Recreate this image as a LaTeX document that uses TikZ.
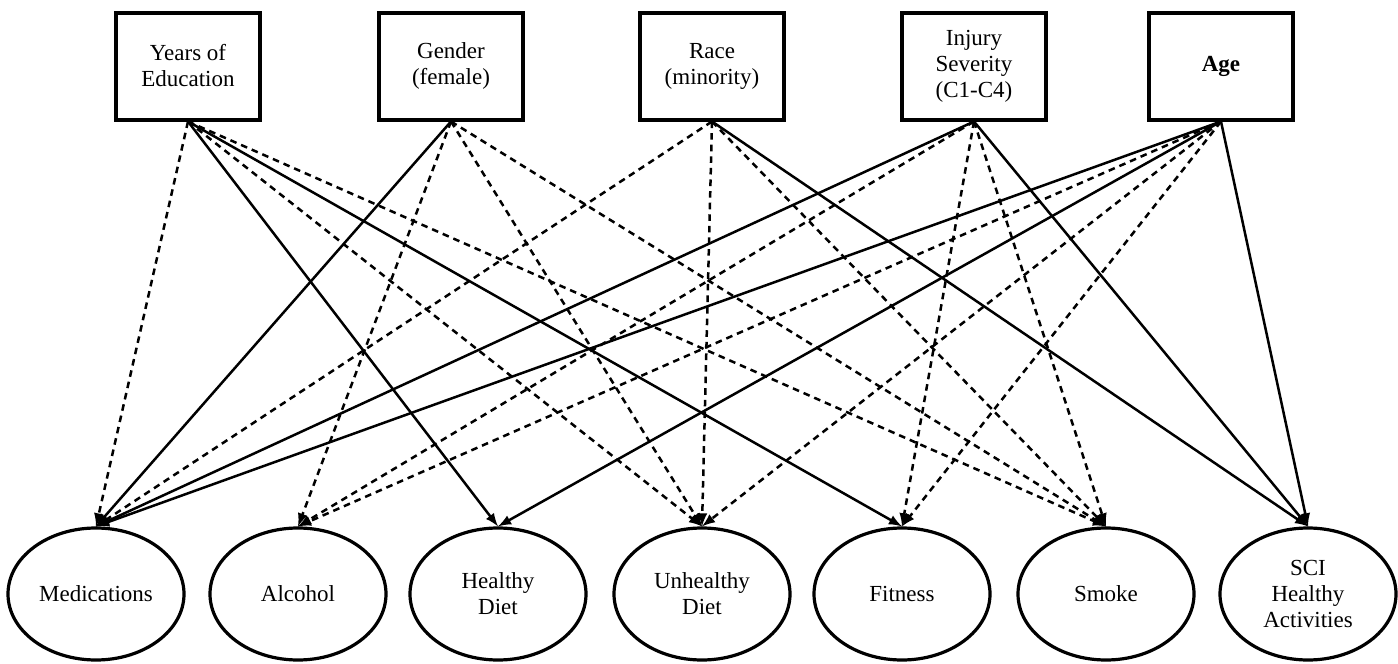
\documentclass[tikz,border=0pt]{standalone}
\usepackage{fontspec}
\setmainfont{Liberation Serif}
\usetikzlibrary{shapes.geometric}

\begin{document}
\begin{tikzpicture}[x=0.5pt,y=0.5pt,font=\fontsize{11.5}{13}\selectfont,
	predictor/.style={draw,line width=2pt,minimum width=72pt,minimum height=53.5pt,align=center,inner sep=2pt},
	outcome/.style={draw,ellipse,line width=1.6pt,minimum width=88pt,minimum height=66pt,align=center,inner sep=0pt},
	sigline/.style={line width=1.25pt,>=latex,->},
	nsline/.style={line width=1.25pt,dash pattern=on 3.3pt off 2.5pt,>=latex,->}]
	\useasboundingbox (0,0) rectangle (1398,-664);

	\node[predictor] (edu) at (188,-66) {Years of\\Education};
	\node[predictor] (gen) at (451,-66) {Gender\\(female)};
	\node[predictor] (race) at (712,-66) {Race\\(minority)};
	\node[predictor] (inj) at (974,-66) {Injury\\Severity\\(C1-C4)};
	\node[predictor] (age) at (1221,-66) {\textbf{Age}};

	\node[outcome] (med) at (96,-594) {Medications};
	\node[outcome] (alc) at (298,-594) {Alcohol};
	\node[outcome] (hdiet) at (498,-594) {Healthy\\Diet};
	\node[outcome] (udiet) at (702,-594) {Unhealthy\\Diet};
	\node[outcome] (fit) at (902,-594) {Fitness};
	\node[outcome] (smoke) at (1106,-594) {Smoke};
	\node[outcome] (sci) at (1308,-594) {SCI\\Healthy\\Activities};

	% significant paths
	\foreach \a / \b in {edu/hdiet,edu/fit,gen/med,race/sci,inj/med,inj/sci,age/med,age/hdiet,age/sci}
		\draw[sigline] (\a.south) -- (\b.north);
	% non-significant paths
	\foreach \a / \b in {edu/med,edu/udiet,edu/smoke,gen/alc,gen/udiet,gen/smoke,race/med,race/udiet,race/smoke,inj/alc,inj/fit,inj/smoke,age/alc,age/udiet,age/fit}
		\draw[nsline] (\a.south) -- (\b.north);
\end{tikzpicture}
\end{document}
